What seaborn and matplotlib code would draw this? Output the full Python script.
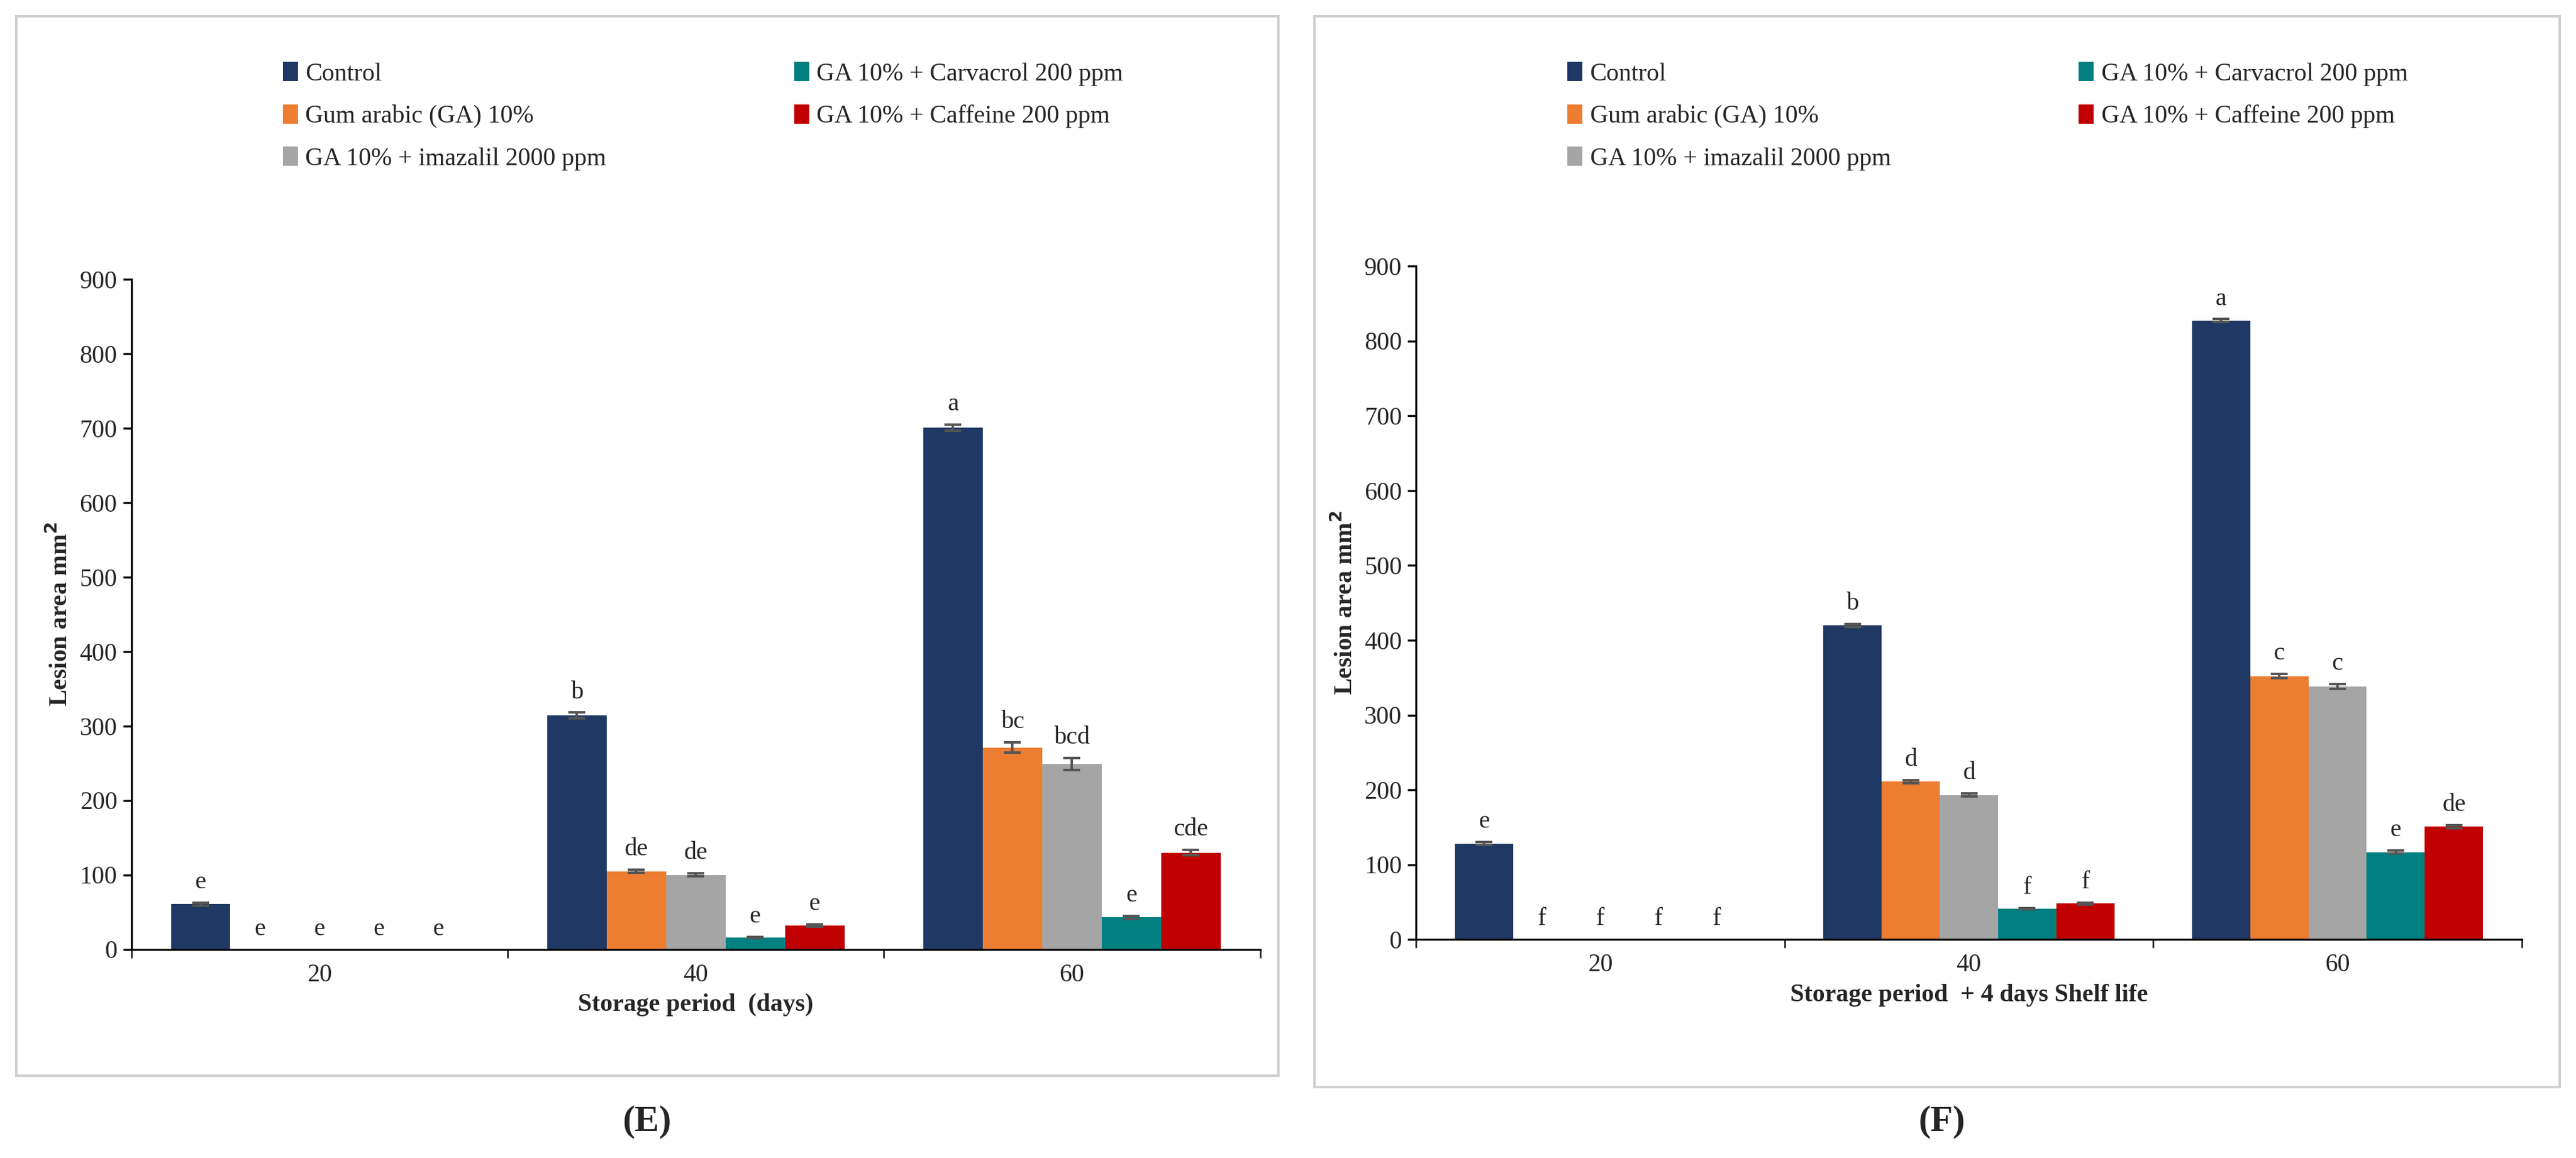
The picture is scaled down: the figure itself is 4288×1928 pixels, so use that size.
import matplotlib
matplotlib.use("Agg")
import matplotlib.pyplot as plt
import seaborn as sns
import pandas as pd
from matplotlib.patches import Rectangle

# Data
periods = ["20", "40", "60"]
treatments = ["Control", "Gum arabic (GA) 10%", "GA 10% + imazalil 2000 ppm",
              "GA 10% + Carvacrol 200 ppm", "GA 10% + Caffeine 200 ppm"]
colors = ["#1F3864", "#ED7D31", "#A5A5A5", "#008080", "#C00000"]

# values per treatment, across periods 20/40/60
e_values = [[61, 314, 701], [0, 105, 271], [0, 100, 249], [0, 16, 43], [0, 32, 130]]
e_errors = [[2, 4, 4], [0, 2, 7], [0, 2, 8], [0, 1, 2], [0, 2, 4]]
e_letters = [["e", "b", "a"], ["e", "de", "bc"], ["e", "de", "bcd"], ["e", "e", "e"], ["e", "e", "cde"]]

f_values = [[128, 420, 827], [0, 211, 352], [0, 193, 338], [0, 41, 117], [0, 48, 151]]
f_errors = [[2, 2, 2], [0, 2, 3], [0, 2, 3], [0, 1, 2], [0, 1, 2]]
f_letters = [["e", "b", "a"], ["f", "d", "c"], ["f", "d", "c"], ["f", "f", "e"], ["f", "f", "de"]]

sns.set_theme(style="white")
plt.rcParams["font.family"] = ["Liberation Serif", "DejaVu Serif"]

W, H = 1568, 705
fig = plt.figure(figsize=(21.44, 9.64), dpi=200)


def frac(x0, y0, x1, y1):
    return [x0 / W, 1 - y1 / H, (x1 - x0) / W, (y1 - y0) / H]


def panel(rect, box, values, errors, letters, xlabel, tag, tag_x):
    # panel frame
    bx = frac(*box)
    fig.patches.append(Rectangle((bx[0], bx[1]), bx[2], bx[3], transform=fig.transFigure,
                                 fill=False, edgecolor="#D0D0D0", linewidth=1.5))
    rows = []
    for t, vals in zip(treatments, values):
        for p, v in zip(periods, vals):
            rows.append({"period": p, "treatment": t, "value": v})
    df = pd.DataFrame(rows)
    ax = fig.add_axes(frac(*rect))
    sns.barplot(data=df, x="period", y="value", hue="treatment", hue_order=treatments,
                palette=colors, width=0.79, gap=0, errorbar=None, ax=ax, saturation=1,
                edgecolor="none")
    bars = [p for p in ax.patches if p.get_width() > 0 and p.get_height() >= 0][:15]
    k = 0
    for ti in range(len(treatments)):
        for pi in range(len(periods)):
            b = bars[k]
            k += 1
            xc = b.get_x() + b.get_width() / 2
            h = values[ti][pi]
            err = errors[ti][pi]
            if err > 0:
                ax.errorbar(xc, h, yerr=err, color="#555555", capsize=5, elinewidth=1.5,
                            capthick=1.5)
            ax.text(xc, h + err + 12, letters[ti][pi], ha="center", va="bottom", fontsize=15)
    ax.set_ylim(0, 900)
    ax.set_xlim(-0.5, 2.5)
    ax.set_yticks(range(0, 901, 100))
    ax.tick_params(axis="both", labelsize=15, length=5, left=True, bottom=False, color="black")
    ax.set_xticks([-0.5, 0.5, 1.5, 2.5], minor=True)
    ax.tick_params(axis="x", which="minor", bottom=True, length=5)
    for s in ["top", "right"]:
        ax.spines[s].set_visible(False)
    for s in ["left", "bottom"]:
        ax.spines[s].set_color("black")
        ax.spines[s].set_linewidth(1.2)
    ax.set_xlabel(xlabel, fontsize=15, fontweight="bold")
    ax.set_ylabel("Lesion area mm$^{\\mathbf{2}}$", fontsize=15, fontweight="bold")
    handles, labels = ax.get_legend_handles_labels()
    ax.get_legend().remove()
    fig.legend(handles, labels, ncol=2, loc="upper left", fontsize=15, frameon=False,
               bbox_to_anchor=(rect[0] / W + 0.05, 1 - (box[1] + 14) / H),
               handlelength=0.6, handleheight=0.8, handletextpad=0.3,
               columnspacing=7.5, labelspacing=0.75)
    fig.text(tag_x / W, 1 - 683 / H, tag, ha="center", va="center", fontsize=22,
             fontweight="bold")


panel((80, 170, 767, 578), (10, 10, 778, 655), e_values, e_errors, e_letters,
      "Storage period  (days)", "(E)", 394)
panel((862, 162, 1535, 572), (800, 10, 1558, 662), f_values, f_errors, f_letters,
      "Storage period  + 4 days Shelf life", "(F)", 1182)

fig.savefig("out.png", dpi=200, facecolor="white")
